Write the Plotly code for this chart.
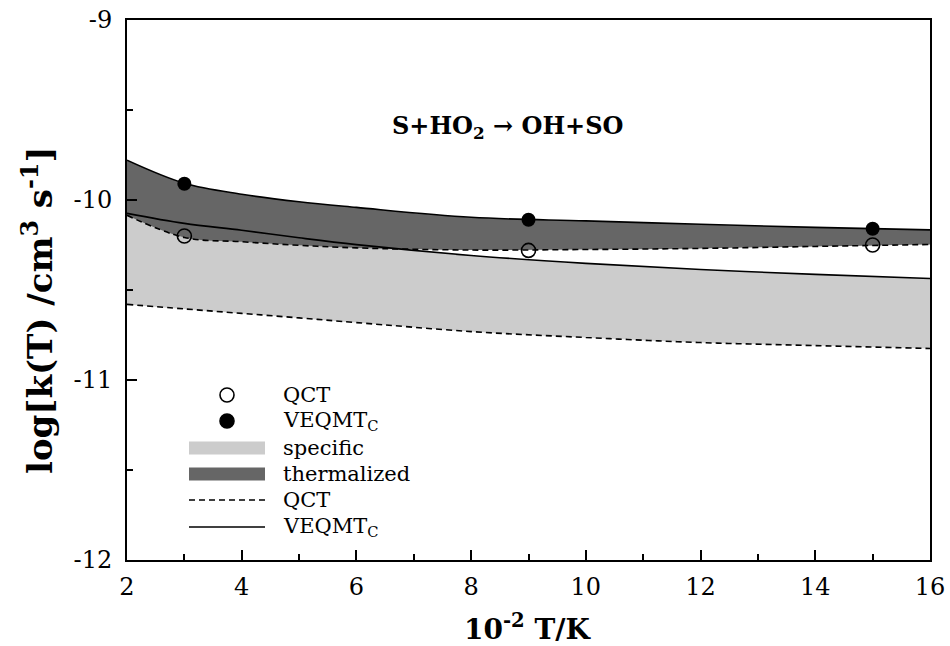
import plotly.graph_objects as go

# ---- data ----
T_curve = [2, 3, 4, 5, 6, 8, 10, 12, 14, 16]
qct_spec = [-10.580, -10.605, -10.630, -10.655, -10.681, -10.731, -10.764, -10.792, -10.809, -10.825]
veq_spec = [-10.074, -10.130, -10.168, -10.210, -10.248, -10.308, -10.352, -10.386, -10.413, -10.436]
qct_therm = [-10.085, -10.208, -10.232, -10.252, -10.266, -10.278, -10.275, -10.269, -10.258, -10.247]
veq_therm = [-9.779, -9.907, -9.968, -10.010, -10.041, -10.096, -10.116, -10.135, -10.152, -10.166]

T_pts = [3, 9, 15]
qct_pts = [-10.20, -10.28, -10.25]
veq_pts = [-9.91, -10.11, -10.16]

x_ticks = [2, 4, 6, 8, 10, 12, 14, 16]
y_ticks = [-12, -11, -10, -9]

FONT = "DejaVu Serif"
LIGHT = "#cccccc"
DARK = "#666666"

fig = go.Figure()

# specific band
fig.add_trace(go.Scatter(x=T_curve, y=qct_spec, mode="lines", line=dict(width=0, shape="spline"),
                         showlegend=False, hoverinfo="skip"))
fig.add_trace(go.Scatter(x=T_curve, y=veq_spec, mode="lines", line=dict(width=0, shape="spline"),
                         fill="tonexty", fillcolor=LIGHT, showlegend=False, hoverinfo="skip"))
# thermalized band
fig.add_trace(go.Scatter(x=T_curve, y=qct_therm, mode="lines", line=dict(width=0, shape="spline"),
                         showlegend=False, hoverinfo="skip"))
fig.add_trace(go.Scatter(x=T_curve, y=veq_therm, mode="lines", line=dict(width=0, shape="spline"),
                         fill="tonexty", fillcolor=DARK, showlegend=False, hoverinfo="skip"))

# boundary lines
for yv, dash in [(qct_spec, "6px,4px"), (qct_therm, "6px,4px"), (veq_spec, "solid"), (veq_therm, "solid")]:
    fig.add_trace(go.Scatter(x=T_curve, y=yv, mode="lines",
                             line=dict(color="black", width=1.6, dash=dash, shape="spline"),
                             showlegend=False, hoverinfo="skip"))

# points
fig.add_trace(go.Scatter(x=T_pts, y=qct_pts, mode="markers",
                         marker=dict(symbol="circle-open", size=14, color="black", line=dict(width=1.6)),
                         showlegend=False))
fig.add_trace(go.Scatter(x=T_pts, y=veq_pts, mode="markers",
                         marker=dict(symbol="circle", size=14, color="black"),
                         showlegend=False))

# ---- page geometry (body margin removed by post_script) ----
W, H = 950, 646
L, R, TOP, BOT = 127, 930, 20, 560   # plot area in window pixels


def px(xp):
    return (xp - L) / (R - L)


def py(yp):
    return (BOT - yp) / (BOT - TOP)


shapes = []
ann = []
leg_rows = [
    (395, "QCT", "open"),
    (421, "VEQMT<sub>C</sub>", "dot"),
    (448, "specific", "light"),
    (474, "thermalized", "dark"),
    (500, "QCT", "dash"),
    (527, "VEQMT<sub>C</sub>", "solid"),
]
x0s, x1s, xc = 189, 265, 227
for yrow, label, kind in leg_rows:
    if kind in ("open", "dot"):
        r = 7
        shapes.append(dict(type="circle", xref="paper", yref="paper",
                           x0=px(xc - r), x1=px(xc + r), y0=py(yrow + r), y1=py(yrow - r),
                           line=dict(color="black", width=1.6),
                           fillcolor="black" if kind == "dot" else "white"))
    elif kind in ("light", "dark"):
        shapes.append(dict(type="rect", xref="paper", yref="paper",
                           x0=px(x0s), x1=px(x1s), y0=py(yrow + 6.5), y1=py(yrow - 6.5),
                           line=dict(width=0), fillcolor=LIGHT if kind == "light" else DARK))
    else:
        shapes.append(dict(type="line", xref="paper", yref="paper",
                           x0=px(x0s), x1=px(x1s), y0=py(yrow), y1=py(yrow),
                           line=dict(color="black", width=1.6,
                                     dash="6px,4px" if kind == "dash" else "solid")))
    ann.append(dict(xref="paper", yref="paper", x=px(281), y=py(yrow), text=label,
                    showarrow=False, xanchor="left", yanchor="middle",
                    font=dict(family=FONT, size=21, color="black")))

# reaction label
ann.append(dict(xref="paper", yref="paper", x=px(507), y=py(127),
                text="<b>S+HO<sub>2</sub> → OH+SO</b>", showarrow=False,
                xanchor="center", yanchor="middle",
                font=dict(family=FONT, size=24, color="black")))

# axis titles (placed explicitly)
ann.append(dict(xref="paper", yref="paper", x=px(528), y=py(627),
                text="<b>10<sup>-2</sup> T/K</b>", showarrow=False,
                xanchor="center", yanchor="middle",
                font=dict(family=FONT, size=28, color="black")))
ann.append(dict(xref="paper", yref="paper", x=px(38), y=py(310),
                text="<b>log[k(T) /cm<sup>3</sup> s<sup>-1</sup>]</b>", showarrow=False,
                textangle=-90, xanchor="center", yanchor="middle",
                font=dict(family=FONT, size=34, color="black")))

fig.update_layout(
    width=W, height=H,
    margin=dict(l=L, r=W - R, t=TOP, b=H - BOT),
    paper_bgcolor="white", plot_bgcolor="white",
    shapes=shapes, annotations=ann,
    font=dict(family=FONT, color="black"),
    showlegend=False,
)
fig.update_xaxes(
    range=[2, 16], tickvals=x_ticks, ticktext=[str(v) for v in x_ticks],
    ticks="inside", ticklen=10, tickwidth=1.5, tickcolor="black",
    minor=dict(dtick=1, ticks="inside", ticklen=6, tickwidth=1.5, tickcolor="black"),
    showline=True, linecolor="black", linewidth=2, mirror=True,
    showgrid=False, zeroline=False, ticklabelstandoff=4, automargin=False,
    ticklabeloverflow="allow",
    tickfont=dict(family=FONT, size=24, color="black"),
)
fig.update_yaxes(
    range=[-12, -9], tickvals=y_ticks, ticktext=[str(v) for v in y_ticks],
    ticks="inside", ticklen=10, tickwidth=1.5, tickcolor="black",
    minor=dict(dtick=0.5, ticks="inside", ticklen=6, tickwidth=1.5, tickcolor="black"),
    showline=True, linecolor="black", linewidth=2, mirror=True,
    showgrid=False, zeroline=False, ticklabelstandoff=8, automargin=False,
    ticklabeloverflow="allow",
    tickfont=dict(family=FONT, size=24, color="black"),
)

fig.write_html("out.html", config={"displayModeBar": False},
               post_script="document.body.style.margin='0';document.body.style.overflow='hidden';")
